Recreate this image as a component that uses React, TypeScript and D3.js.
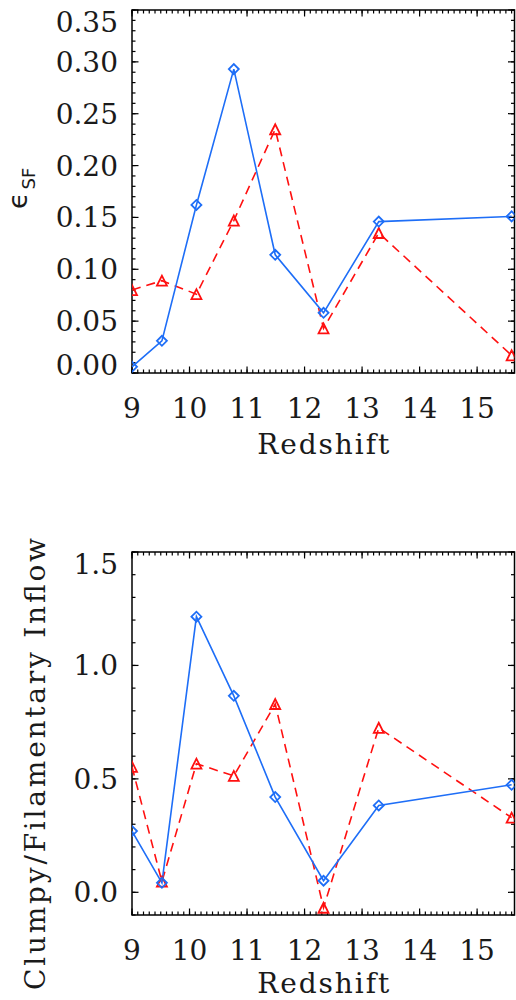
import React from "react";
import * as d3 from "d3";

// Redshift of each snapshot, shared by both panels
const redshift = [9.0, 9.52, 10.12, 10.77, 11.49, 12.33, 13.29, 15.6];

// Star-formation efficiency
const sfBlue = [0.006, 0.031, 0.162, 0.293, 0.114, 0.058, 0.146, 0.151];
const sfRed = [0.08, 0.089, 0.076, 0.147, 0.235, 0.043, 0.135, 0.017];

// Clumpy / filamentary inflow ratio
const inflowBlue = [0.27, 0.042, 1.215, 0.866, 0.42, 0.051, 0.383, 0.474];
const inflowRed = [0.553, 0.047, 0.567, 0.513, 0.83, -0.068, 0.725, 0.329];

const xTickLabels = ["9", "10", "11", "12", "13", "14", "15"];
const sfTickLabels = ["0.00", "0.05", "0.10", "0.15", "0.20", "0.25", "0.30", "0.35"];
const inflowTickLabels = ["0.0", "0.5", "1.0", "1.5"];

const BLUE = "#1e6ef7";
const RED = "#ff1010";
const FONT = "'DejaVu Serif', serif";
const LEFT = 132;
const RIGHT = 514.5;

type PanelProps = {
  top: number;
  bottom: number;
  yDomain: [number, number];
  yMinor: number;
  yLabels: string[];
  blue: number[];
  red: number[];
  id: string;
  titleOffset: number;
  yTitle: React.ReactNode;
};

function Panel({ top, bottom, yDomain, yMinor, yLabels, blue, red, id, titleOffset, yTitle }: PanelProps) {
  const x = d3.scaleLinear().domain([9, 15.65]).range([LEFT, RIGHT]);
  const y = d3.scaleLinear().domain(yDomain).range([bottom, top]);

  const xMinor = d3.range(90, 157).map((v) => v / 10);
  const xMajor = xTickLabels.map(Number);
  const yMinorTicks = d3
    .range(Math.round(yDomain[0] / yMinor), Math.round(yDomain[1] / yMinor) + 1)
    .map((k) => k * yMinor);
  const yMajorTicks = yLabels.map(Number);

  const line = d3
    .line<number>()
    .x((_, i) => x(redshift[i]))
    .y((d) => y(d));

  const majLen = 6.5;
  const minLen = 3.5;

  return (
    <g>
      <defs>
        <clipPath id={id}>
          <rect x={LEFT} y={top} width={RIGHT - LEFT} height={bottom - top} />
        </clipPath>
      </defs>

      {/* tick marks on all four sides, pointing inward */}
      <g stroke="#000" strokeWidth={1.2}>
        {xMinor.map((v) => (
          <g key={"xm" + v}>
            <line x1={x(v)} x2={x(v)} y1={bottom} y2={bottom - minLen} />
            <line x1={x(v)} x2={x(v)} y1={top} y2={top + minLen} />
          </g>
        ))}
        {xMajor.map((v) => (
          <g key={"xM" + v}>
            <line x1={x(v)} x2={x(v)} y1={bottom} y2={bottom - majLen} />
            <line x1={x(v)} x2={x(v)} y1={top} y2={top + majLen} />
          </g>
        ))}
        {yMinorTicks.map((v) => (
          <g key={"ym" + v}>
            <line x1={LEFT} x2={LEFT + minLen} y1={y(v)} y2={y(v)} />
            <line x1={RIGHT} x2={RIGHT - minLen} y1={y(v)} y2={y(v)} />
          </g>
        ))}
        {yMajorTicks.map((v) => (
          <g key={"yM" + v}>
            <line x1={LEFT} x2={LEFT + majLen} y1={y(v)} y2={y(v)} />
            <line x1={RIGHT} x2={RIGHT - majLen} y1={y(v)} y2={y(v)} />
          </g>
        ))}
      </g>

      <rect x={LEFT} y={top} width={RIGHT - LEFT} height={bottom - top} fill="none" stroke="#000" strokeWidth={1.5} />

      {/* series */}
      <g clipPath={`url(#${id})`}>
        <path d={line(red) || ""} fill="none" stroke={RED} strokeWidth={1.6} strokeDasharray="9,6" />
        <path d={line(blue) || ""} fill="none" stroke={BLUE} strokeWidth={1.6} />
        {red.map((v, i) => {
          const cx = x(redshift[i]);
          const cy = y(v);
          return (
            <path
              key={"t" + i}
              d={`M${cx - 5},${cy + 5}L${cx},${cy - 5}L${cx + 5},${cy + 5}Z`}
              fill="none"
              stroke={RED}
              strokeWidth={1.8}
            />
          );
        })}
        {blue.map((v, i) => {
          const cx = x(redshift[i]);
          const cy = y(v);
          return (
            <path
              key={"d" + i}
              d={`M${cx - 5},${cy}L${cx},${cy - 5}L${cx + 5},${cy}L${cx},${cy + 5}Z`}
              fill="none"
              stroke={BLUE}
              strokeWidth={1.8}
            />
          );
        })}
      </g>

      {/* tick labels */}
      <g fontFamily={FONT} fontSize={28} fill="#1a1a1a">
        {xTickLabels.map((t) => (
          <text key={"xl" + t} x={x(+t)} y={bottom + 45} textAnchor="middle">
            {t}
          </text>
        ))}
        {yLabels.map((t) => {
          const cy = Math.min(Math.max(y(+t), top + 12), bottom - 8);
          return (
            <text key={"yl" + t} x={118} y={cy + 10} textAnchor="end">
              {t}
            </text>
          );
        })}
        <text
          x={(LEFT + RIGHT) / 2}
          y={bottom + titleOffset}
          textAnchor="middle"
          textLength={132}
          lengthAdjust="spacing"
        >
          Redshift
        </text>
      </g>
      {yTitle}
    </g>
  );
}

export default function App() {
  return (
    <svg
      width={516}
      height={1000}
      viewBox="0 0 516 1000"
      style={{ position: "absolute", left: 0, top: 0, background: "#fff" }}
    >
      <rect width={516} height={1000} fill="#fff" />
      <Panel
        id="clipSF"
        top={10}
        bottom={373}
        yDomain={[0, 0.35]}
        yMinor={0.01}
        yLabels={sfTickLabels}
        blue={sfBlue}
        red={sfRed}
        titleOffset={81}
        yTitle={
          <text transform="translate(27,209) rotate(-90)" fontFamily="'DejaVu Sans', sans-serif" fill="#1a1a1a">
            <tspan fontSize={27}>ϵ</tspan>
            <tspan fontSize={18} dy={8} dx={3}>
              SF
            </tspan>
          </text>
        }
      />
      <Panel
        id="clipInflow"
        top={552}
        bottom={915}
        yDomain={[-0.1, 1.5]}
        yMinor={0.1}
        yLabels={inflowTickLabels}
        blue={inflowBlue}
        red={inflowRed}
        titleOffset={78}
        yTitle={
          <text
            transform="translate(45,764) rotate(-90)"
            fontFamily={FONT}
            fontSize={28}
            fill="#1a1a1a"
            textAnchor="middle"
            textLength={452}
            lengthAdjust="spacing"
          >
            Clumpy/Filamentary Inflow
          </text>
        }
      />
    </svg>
  );
}
